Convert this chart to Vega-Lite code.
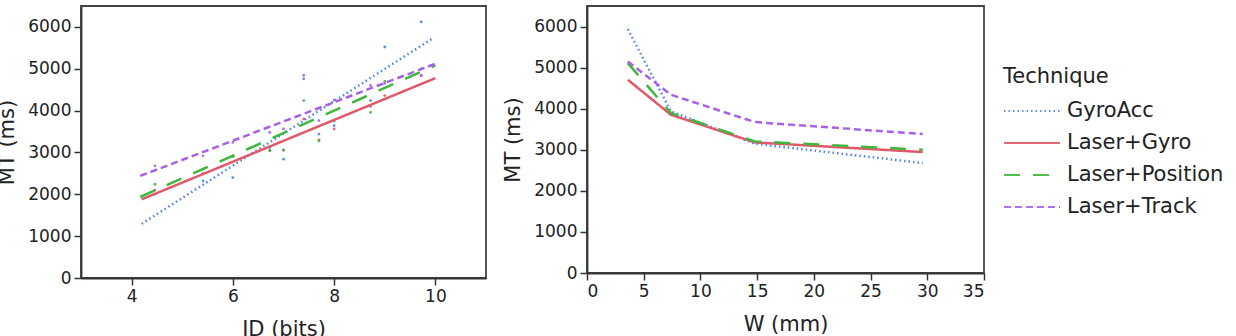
{
  "$schema": "https://vega.github.io/schema/vega-lite/v6.json",
  "padding": {"left": -5, "top": 5, "right": 0, "bottom": 0},
  "background": "white",
  "spacing": 14,
  "config": {
    "font": "DejaVu Sans",
    "view": {"stroke": "#444", "strokeWidth": 1.8},
    "axis": {
      "grid": false,
      "labelFont": "DejaVu Sans",
      "labelFontSize": 17,
      "labelColor": "#222",
      "titleFont": "DejaVu Sans",
      "titleFontSize": 21,
      "titleFontWeight": "normal",
      "titleColor": "#222",
      "domainColor": "#333",
      "domainWidth": 1.8,
      "tickColor": "#333",
      "tickWidth": 1.5,
      "tickSize": 7,
      "labelPadding": 3,
      "titlePadding": 10
    },
    "legend": {
      "titleFont": "DejaVu Sans",
      "titleFontSize": 21,
      "titleFontWeight": "normal",
      "titleColor": "#222",
      "labelFont": "DejaVu Sans",
      "labelFontSize": 21,
      "labelColor": "#222"
    }
  },
  "datasets": {
    "scatter": [
      {"ID": 4.46, "MT": 2000, "Technique": "GyroAcc"},
      {"ID": 5.41, "MT": 2320, "Technique": "GyroAcc"},
      {"ID": 6.0, "MT": 2400, "Technique": "GyroAcc"},
      {"ID": 6.73, "MT": 3120, "Technique": "GyroAcc"},
      {"ID": 7.0, "MT": 2840, "Technique": "GyroAcc"},
      {"ID": 7.4, "MT": 4760, "Technique": "GyroAcc"},
      {"ID": 7.7, "MT": 3440, "Technique": "GyroAcc"},
      {"ID": 8.0, "MT": 3640, "Technique": "GyroAcc"},
      {"ID": 8.72, "MT": 4240, "Technique": "GyroAcc"},
      {"ID": 9.0, "MT": 5520, "Technique": "GyroAcc"},
      {"ID": 9.72, "MT": 6120, "Technique": "GyroAcc"},
      {"ID": 4.46, "MT": 2100, "Technique": "Laser+Gyro"},
      {"ID": 5.41, "MT": 2500, "Technique": "Laser+Gyro"},
      {"ID": 6.0, "MT": 2920, "Technique": "Laser+Gyro"},
      {"ID": 6.73, "MT": 3050, "Technique": "Laser+Gyro"},
      {"ID": 7.0, "MT": 3050, "Technique": "Laser+Gyro"},
      {"ID": 7.4, "MT": 3800, "Technique": "Laser+Gyro"},
      {"ID": 7.7, "MT": 3300, "Technique": "Laser+Gyro"},
      {"ID": 8.0, "MT": 3560, "Technique": "Laser+Gyro"},
      {"ID": 8.72, "MT": 4100, "Technique": "Laser+Gyro"},
      {"ID": 9.0, "MT": 4360, "Technique": "Laser+Gyro"},
      {"ID": 9.72, "MT": 4840, "Technique": "Laser+Gyro"},
      {"ID": 4.46, "MT": 2240, "Technique": "Laser+Position"},
      {"ID": 5.41, "MT": 2600, "Technique": "Laser+Position"},
      {"ID": 6.0, "MT": 2900, "Technique": "Laser+Position"},
      {"ID": 6.73, "MT": 3040, "Technique": "Laser+Position"},
      {"ID": 7.0, "MT": 3060, "Technique": "Laser+Position"},
      {"ID": 7.4, "MT": 4240, "Technique": "Laser+Position"},
      {"ID": 7.7, "MT": 3280, "Technique": "Laser+Position"},
      {"ID": 8.0, "MT": 3750, "Technique": "Laser+Position"},
      {"ID": 8.72, "MT": 3960, "Technique": "Laser+Position"},
      {"ID": 9.0, "MT": 4700, "Technique": "Laser+Position"},
      {"ID": 9.72, "MT": 5000, "Technique": "Laser+Position"},
      {"ID": 4.46, "MT": 2680, "Technique": "Laser+Track"},
      {"ID": 5.41, "MT": 2920, "Technique": "Laser+Track"},
      {"ID": 6.0, "MT": 3240, "Technique": "Laser+Track"},
      {"ID": 6.73, "MT": 3480, "Technique": "Laser+Track"},
      {"ID": 7.0, "MT": 3560, "Technique": "Laser+Track"},
      {"ID": 7.4, "MT": 4840, "Technique": "Laser+Track"},
      {"ID": 7.7, "MT": 3760, "Technique": "Laser+Track"},
      {"ID": 8.0, "MT": 4250, "Technique": "Laser+Track"},
      {"ID": 8.72, "MT": 4600, "Technique": "Laser+Track"},
      {"ID": 9.0, "MT": 4650, "Technique": "Laser+Track"},
      {"ID": 9.72, "MT": 4840, "Technique": "Laser+Track"}
    ],
    "fit": [
      {"ID": 4.2, "MT": 1296, "Technique": "GyroAcc"},
      {"ID": 9.97, "MT": 5744, "Technique": "GyroAcc"},
      {"ID": 4.2, "MT": 1880, "Technique": "Laser+Gyro"},
      {"ID": 10.0, "MT": 4776, "Technique": "Laser+Gyro"},
      {"ID": 4.17, "MT": 1936, "Technique": "Laser+Position"},
      {"ID": 10.0, "MT": 5080, "Technique": "Laser+Position"},
      {"ID": 4.17, "MT": 2440, "Technique": "Laser+Track"},
      {"ID": 10.0, "MT": 5120, "Technique": "Laser+Track"}
    ],
    "means": [
      {"W": 3.6, "MT": 5937, "Technique": "GyroAcc"},
      {"W": 7.4, "MT": 3933, "Technique": "GyroAcc"},
      {"W": 14.8, "MT": 3147, "Technique": "GyroAcc"},
      {"W": 29.6, "MT": 2676, "Technique": "GyroAcc"},
      {"W": 3.6, "MT": 4704, "Technique": "Laser+Gyro"},
      {"W": 7.4, "MT": 3852, "Technique": "Laser+Gyro"},
      {"W": 14.8, "MT": 3179, "Technique": "Laser+Gyro"},
      {"W": 29.6, "MT": 2944, "Technique": "Laser+Gyro"},
      {"W": 3.6, "MT": 5109, "Technique": "Laser+Position"},
      {"W": 7.4, "MT": 3893, "Technique": "Laser+Position"},
      {"W": 14.8, "MT": 3204, "Technique": "Laser+Position"},
      {"W": 29.6, "MT": 3001, "Technique": "Laser+Position"},
      {"W": 3.6, "MT": 5150, "Technique": "Laser+Track"},
      {"W": 7.4, "MT": 4339, "Technique": "Laser+Track"},
      {"W": 14.8, "MT": 3674, "Technique": "Laser+Track"},
      {"W": 29.6, "MT": 3382, "Technique": "Laser+Track"}
    ]
  },
  "hconcat": [
    {
      "width": 405,
      "height": 272,
      "layer": [
        {
          "data": {"name": "scatter"},
          "mark": {"type": "circle", "size": 8, "opacity": 0.9},
          "encoding": {
            "x": {"field": "ID", "type": "quantitative", "scale": {"domain": [3, 11], "nice": false, "zero": false}, "axis": {"values": [4, 6, 8, 10], "format": "d", "title": "ID (bits)", "titlePadding": 14}},
            "y": {"field": "MT", "type": "quantitative", "scale": {"domain": [0, 6500], "nice": false}, "axis": {"values": [0, 1000, 2000, 3000, 4000, 5000, 6000], "format": "d", "title": "MT (ms)"}},
            "color": {"field": "Technique", "type": "nominal", "scale": {"domain": ["GyroAcc", "Laser+Gyro", "Laser+Position", "Laser+Track"], "range": ["#4f84e0", "#e0596a", "#3db83d", "#a960e8"]},
              "legend": {"title": "Technique", "orient": "right", "offset": -43, "padding": 60, "symbolType": "stroke", "symbolSize": 3136, "symbolStrokeWidth": 2, "clipHeight": 24, "rowPadding": 8, "labelOffset": 6, "titlePadding": 12}}
          }
        },
        {
          "data": {"name": "fit"},
          "mark": {"type": "line", "strokeWidth": 2.5},
          "encoding": {
            "x": {"field": "ID", "type": "quantitative"},
            "y": {"field": "MT", "type": "quantitative"},
            "color": {"field": "Technique", "type": "nominal", "scale": {"domain": ["GyroAcc", "Laser+Gyro", "Laser+Position", "Laser+Track"], "range": ["#4f84e0", "#e0596a", "#3db83d", "#a960e8"]},
              "legend": {"title": "Technique", "orient": "right", "offset": -43, "padding": 60, "symbolType": "stroke", "symbolSize": 3136, "symbolStrokeWidth": 2, "clipHeight": 24, "rowPadding": 8, "labelOffset": 6, "titlePadding": 12}},
            "strokeDash": {"field": "Technique", "type": "nominal", "scale": {"domain": ["GyroAcc", "Laser+Gyro", "Laser+Position", "Laser+Track"], "range": [[1.5, 3], [1, 0], [16, 13], [7, 4]]},
              "legend": {"title": "Technique", "orient": "right", "offset": -43, "padding": 60, "symbolType": "stroke", "symbolSize": 3136, "symbolStrokeWidth": 2, "clipHeight": 24, "rowPadding": 8, "labelOffset": 6, "titlePadding": 12}}
          }
        }
      ]
    },
    {
      "width": 397,
      "height": 267,
      "data": {"name": "means"},
      "mark": {"type": "line", "strokeWidth": 2.5},
      "encoding": {
        "x": {"field": "W", "type": "quantitative", "scale": {"domain": [0, 35], "nice": false}, "axis": {"values": [0, 5, 10, 15, 20, 25, 30, 35], "format": "d", "title": "W (mm)", "titlePadding": 14}},
        "y": {"field": "MT", "type": "quantitative", "scale": {"domain": [0, 6500], "nice": false}, "axis": {"values": [0, 1000, 2000, 3000, 4000, 5000, 6000], "format": "d", "title": "MT (ms)"}},
        "color": {"field": "Technique", "type": "nominal", "scale": {"domain": ["GyroAcc", "Laser+Gyro", "Laser+Position", "Laser+Track"], "range": ["#4f84e0", "#e0596a", "#3db83d", "#a960e8"]},
          "legend": {"title": "Technique", "orient": "right", "offset": -43, "padding": 60, "symbolType": "stroke", "symbolSize": 3136, "symbolStrokeWidth": 2, "clipHeight": 24, "rowPadding": 8, "labelOffset": 6, "titlePadding": 12}},
        "strokeDash": {"field": "Technique", "type": "nominal", "scale": {"domain": ["GyroAcc", "Laser+Gyro", "Laser+Position", "Laser+Track"], "range": [[1.5, 3], [1, 0], [16, 13], [7, 4]]},
          "legend": {"title": "Technique", "orient": "right", "offset": -43, "padding": 60, "symbolType": "stroke", "symbolSize": 3136, "symbolStrokeWidth": 2, "clipHeight": 24, "rowPadding": 8, "labelOffset": 6, "titlePadding": 12}}
      }
    }
  ]
}
